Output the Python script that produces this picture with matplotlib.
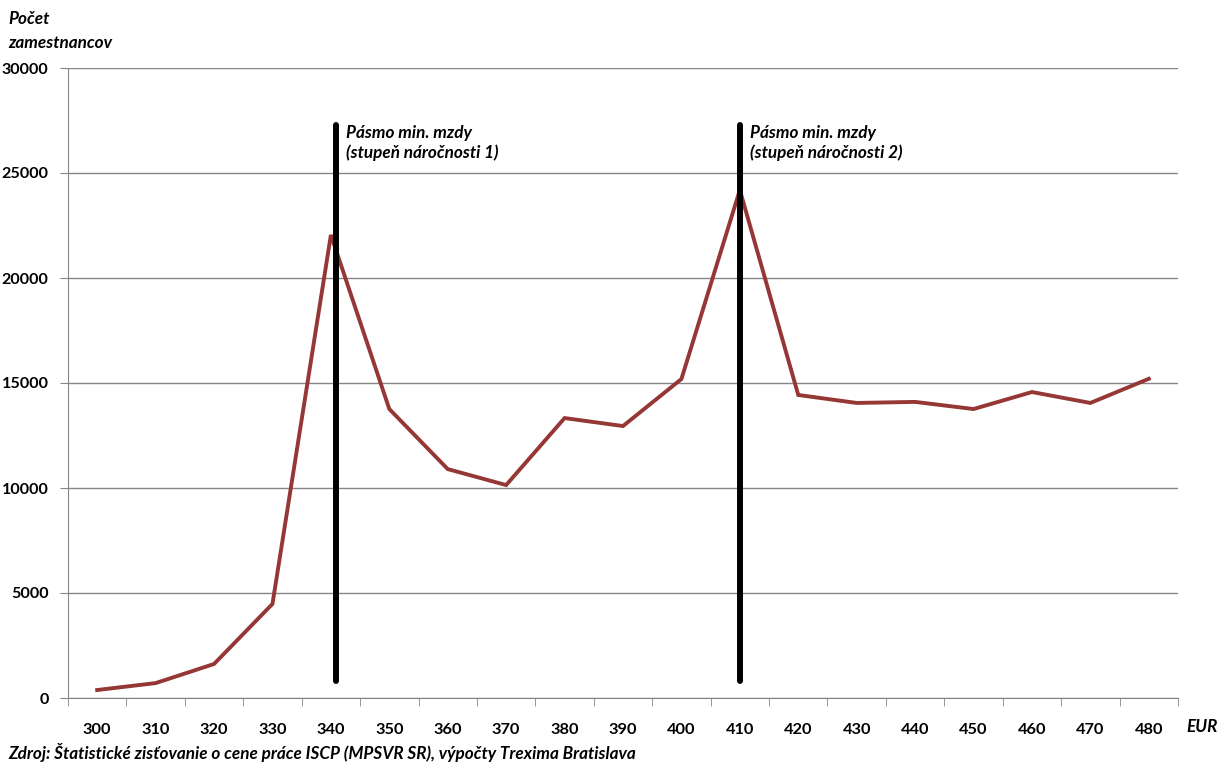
import matplotlib.pyplot as plt
import numpy as np

plt.rcParams['font.family'] = ['Lato', 'DejaVu Sans']

# wage bands (EUR) and number of employees
wages = [300, 310, 320, 330, 340, 350, 360, 370, 380, 390,
         400, 410, 420, 430, 440, 450, 460, 470, 480]
employees = [380, 710, 1620, 4480, 22050, 13760, 10900, 10140, 13330, 12950,
             15190, 24190, 14430, 14050, 14100, 13760, 14570, 14050, 15200]

# minimum wage bands (position on the category axis)
min_wage_pos = [4.08, 11.0]
min_wage_labels = ['Pásmo min. mzdy\n(stupeň náročnosti 1)',
                   'Pásmo min. mzdy\n(stupeň náročnosti 2)']

fig = plt.figure(figsize=(12.23, 7.62), dpi=100)
ax = fig.add_axes([68 / 1223, 64 / 762, 1110 / 1223, 630 / 762])

x = np.arange(len(wages))
ax.plot(x, employees, color='#953735', lw=2.8, solid_joinstyle='miter', zorder=3)

for pos, lab in zip(min_wage_pos, min_wage_labels):
    ax.plot([pos, pos], [800, 27300], color='black', lw=4.3, zorder=4,
            solid_capstyle='round')
    ax.text(pos + 0.18, 27300, lab, fontsize=12.3, fontstyle='italic',
            fontweight='bold', va='top', ha='left', linespacing=1.3)

ax.set_xlim(-0.5, len(wages) - 0.5)
ax.set_ylim(0, 30000)
ax.set_yticks(np.arange(0, 30001, 5000))
ax.set_yticklabels([str(v) for v in range(0, 30001, 5000)],
                   fontsize=11.6, fontweight='bold')
ax.set_xticks(x)
ax.set_xticklabels([str(w) for w in wages], fontsize=11.8, fontweight='bold')
ax.tick_params(axis='x', which='major', length=0, pad=18)
ax.set_xticks(np.arange(-0.5, len(wages), 1), minor=True)
ax.tick_params(axis='x', which='minor', length=6, color='#868686', direction='out')
ax.tick_params(axis='y', length=6, color='#868686', pad=8)

ax.grid(axis='y', color='#868686', lw=1)
ax.set_axisbelow(True)
for s in ['top', 'right']:
    ax.spines[s].set_visible(False)
for s in ['left', 'bottom']:
    ax.spines[s].set_color('#868686')

fig.text(8 / 1223, 1 - 19 / 762, 'Počet', fontsize=12.3,
         fontstyle='italic', fontweight='bold', va='center', ha='left')
fig.text(8 / 1223, 1 - 43 / 762, 'zamestnancov', fontsize=12.3,
         fontstyle='italic', fontweight='bold', va='center', ha='left')
fig.text(1186 / 1223, 1 - 727 / 762, 'EUR', fontsize=12.3, fontstyle='italic',
         fontweight='bold', va='center', ha='left')
fig.text(8 / 1223, 1 - 753 / 762,
         'Zdroj: Štatistické zisťovanie o cene práce ISCP (MPSVR SR), výpočty Trexima Bratislava',
         fontsize=12.3, fontstyle='italic', fontweight='bold', va='center', ha='left')

plt.savefig('out.png', dpi=100)
